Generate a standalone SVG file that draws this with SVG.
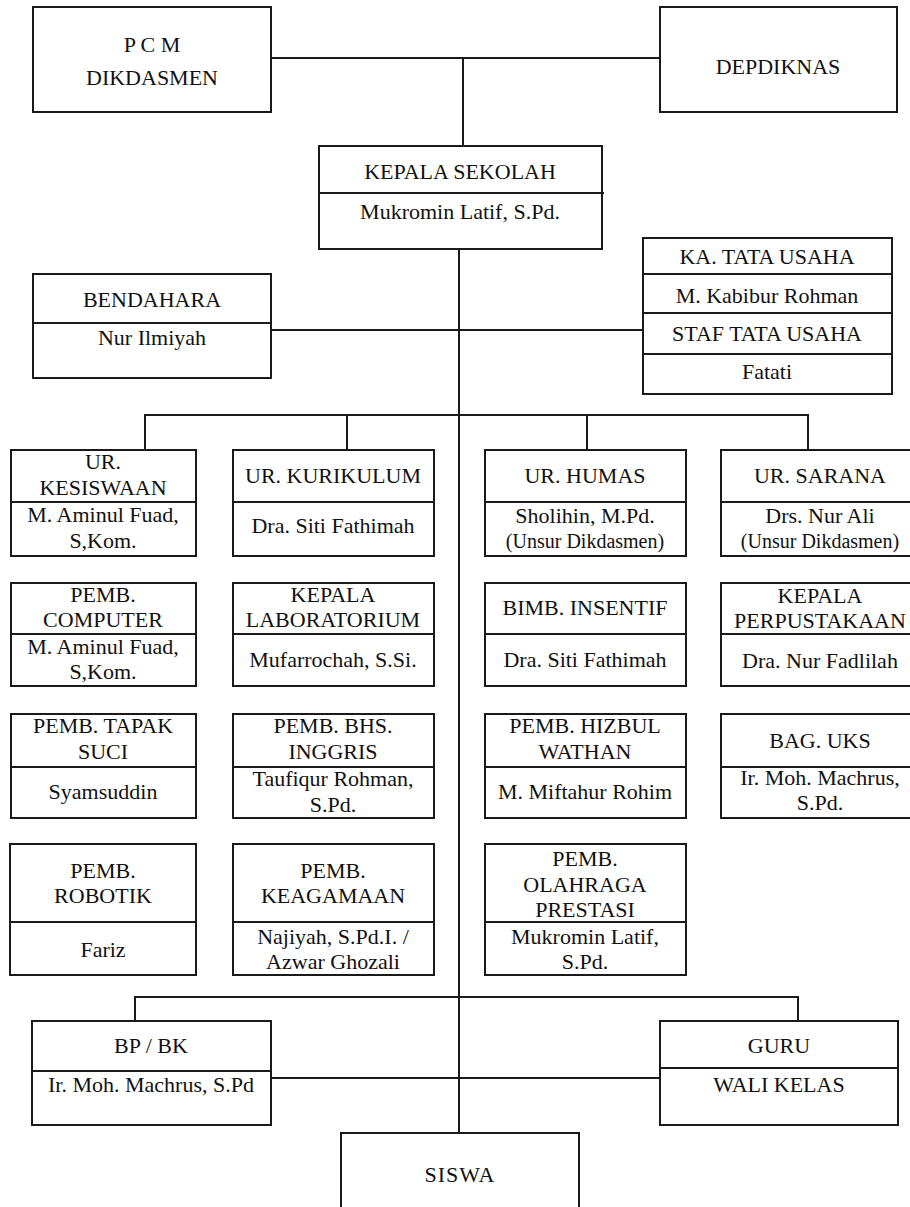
<svg xmlns="http://www.w3.org/2000/svg" width="910" height="1207" viewBox="0 0 910 1207">
<style>
.box{fill:#fff;stroke:#1a1a1a;stroke-width:2}
.ln{stroke:#1a1a1a;stroke-width:2;fill:none}
.t text{font-family:'Liberation Serif','DejaVu Serif','Noto Serif',serif;font-size:22px;text-anchor:middle;fill:#111}
.t .sm{font-size:20px}
</style>
<rect width="910" height="1207" fill="#fff"/>
<g id="connectors">
<path class="ln" d="M271 58H660M463 58V146"/>
<path class="ln" d="M459 249V1133"/>
<path class="ln" d="M271 330H643"/>
<path class="ln" d="M145 450V415H808V450M347 415V450M587 415V450"/>
<path class="ln" d="M135 1021V997H798V1021"/>
<path class="ln" d="M271 1078H660"/>
</g>
<g class="t" font-family="Liberation Serif, serif">
<g id="pcm"><rect class="box" x="33" y="7" width="238" height="105"/><text x="152" y="52">P C M</text><text x="152" y="85">DIKDASMEN</text></g>
<g id="depdiknas"><rect class="box" x="660" y="7" width="237" height="105"/><text x="778" y="74">DEPDIKNAS</text></g>
<g id="kepala-sekolah"><rect class="box" x="319" y="146" width="283" height="103"/><path class="ln" d="M319 193H604"/><text x="460" y="179">KEPALA SEKOLAH</text><text x="460" y="219">Mukromin Latif, S.Pd.</text></g>
<g id="tata-usaha"><rect class="box" x="643" y="238" width="249" height="156"/><path class="ln" d="M643 274H892M643 313H892M643 354H892"/><text x="767" y="264">KA. TATA USAHA</text><text x="767" y="303">M. Kabibur Rohman</text><text x="767" y="341">STAF TATA USAHA</text><text x="767" y="379">Fatati</text></g>
<g id="bendahara"><rect class="box" x="33" y="274" width="238" height="104"/><path class="ln" d="M33 323H271"/><text x="152" y="307">BENDAHARA</text><text x="152" y="345">Nur Ilmiyah</text></g>
<g id="ur-kesiswaan"><rect class="box" x="11" y="450" width="185" height="106"/><path class="ln" d="M11 502H196"/><text x="103" y="469">UR.</text><text x="103" y="495">KESISWAAN</text><text x="103" y="522">M. Aminul Fuad,</text><text x="103" y="548">S,Kom.</text></g>
<g id="ur-kurikulum"><rect class="box" x="233" y="450" width="201" height="106"/><path class="ln" d="M233 502H434"/><text x="333" y="483">UR. KURIKULUM</text><text x="333" y="533">Dra. Siti Fathimah</text></g>
<g id="ur-humas"><rect class="box" x="485" y="450" width="201" height="106"/><path class="ln" d="M485 502H686"/><text x="585" y="483">UR. HUMAS</text><text x="585" y="523">Sholihin, M.Pd.</text><text class="sm" x="585" y="548">(Unsur Dikdasmen)</text></g>
<g id="ur-sarana"><rect class="box" x="721" y="450" width="198" height="106"/><path class="ln" d="M721 502H919"/><text x="820" y="483">UR. SARANA</text><text x="820" y="523">Drs. Nur Ali</text><text class="sm" x="820" y="548">(Unsur Dikdasmen)</text></g>
<g id="pemb-computer"><rect class="box" x="11" y="583" width="185" height="103"/><path class="ln" d="M11 634H196"/><text x="103" y="602">PEMB.</text><text x="103" y="627">COMPUTER</text><text x="103" y="654">M. Aminul Fuad,</text><text x="103" y="679">S,Kom.</text></g>
<g id="kepala-lab"><rect class="box" x="233" y="583" width="201" height="103"/><path class="ln" d="M233 634H434"/><text x="333" y="602">KEPALA</text><text x="333" y="627">LABORATORIUM</text><text x="333" y="667">Mufarrochah, S.Si.</text></g>
<g id="bimb-insentif"><rect class="box" x="485" y="583" width="201" height="103"/><path class="ln" d="M485 634H686"/><text x="585" y="615">BIMB. INSENTIF</text><text x="585" y="667">Dra. Siti Fathimah</text></g>
<g id="kepala-perpustakaan"><rect class="box" x="721" y="583" width="198" height="103"/><path class="ln" d="M721 634H919"/><text x="820" y="603">KEPALA</text><text x="820" y="628">PERPUSTAKAAN</text><text x="820" y="668">Dra. Nur Fadlilah</text></g>
<g id="pemb-tapak-suci"><rect class="box" x="11" y="714" width="185" height="104"/><path class="ln" d="M11 767H196"/><text x="103" y="733">PEMB. TAPAK</text><text x="103" y="759">SUCI</text><text x="103" y="799">Syamsuddin</text></g>
<g id="pemb-bhs-inggris"><rect class="box" x="233" y="714" width="201" height="104"/><path class="ln" d="M233 767H434"/><text x="333" y="733">PEMB. BHS.</text><text x="333" y="759">INGGRIS</text><text x="333" y="786">Taufiqur Rohman,</text><text x="333" y="812">S.Pd.</text></g>
<g id="pemb-hizbul-wathan"><rect class="box" x="485" y="714" width="201" height="104"/><path class="ln" d="M485 767H686"/><text x="585" y="733">PEMB. HIZBUL</text><text x="585" y="759">WATHAN</text><text x="585" y="799">M. Miftahur Rohim</text></g>
<g id="bag-uks"><rect class="box" x="721" y="714" width="198" height="104"/><path class="ln" d="M721 767H919"/><text x="820" y="748">BAG. UKS</text><text x="820" y="785">Ir. Moh. Machrus,</text><text x="820" y="810">S.Pd.</text></g>
<g id="pemb-robotik"><rect class="box" x="10" y="844" width="186" height="131"/><path class="ln" d="M10 922H196"/><text x="103" y="878">PEMB.</text><text x="103" y="903">ROBOTIK</text><text x="103" y="957">Fariz</text></g>
<g id="pemb-keagamaan"><rect class="box" x="233" y="844" width="201" height="131"/><path class="ln" d="M233 922H434"/><text x="333" y="878">PEMB.</text><text x="333" y="903">KEAGAMAAN</text><text x="333" y="944">Najiyah, S.Pd.I. /</text><text x="333" y="969">Azwar Ghozali</text></g>
<g id="pemb-olahraga"><rect class="box" x="485" y="844" width="201" height="131"/><path class="ln" d="M485 922H686"/><text x="585" y="866">PEMB.</text><text x="585" y="892">OLAHRAGA</text><text x="585" y="917">PRESTASI</text><text x="585" y="944">Mukromin Latif,</text><text x="585" y="969">S.Pd.</text></g>
<g id="bp-bk"><rect class="box" x="32" y="1021" width="239" height="104"/><path class="ln" d="M32 1071H271"/><text x="151" y="1053">BP / BK</text><text x="151" y="1092" font-size="21">Ir. Moh. Machrus, S.Pd</text></g>
<g id="guru"><rect class="box" x="660" y="1021" width="238" height="104"/><path class="ln" d="M660 1068H898"/><text x="779" y="1053">GURU</text><text x="779" y="1092">WALI KELAS</text></g>
<g id="siswa"><rect class="box" x="341" y="1133" width="238" height="90"/><text x="460" y="1182" letter-spacing="1">SISWA</text></g>
</g>
</svg>
